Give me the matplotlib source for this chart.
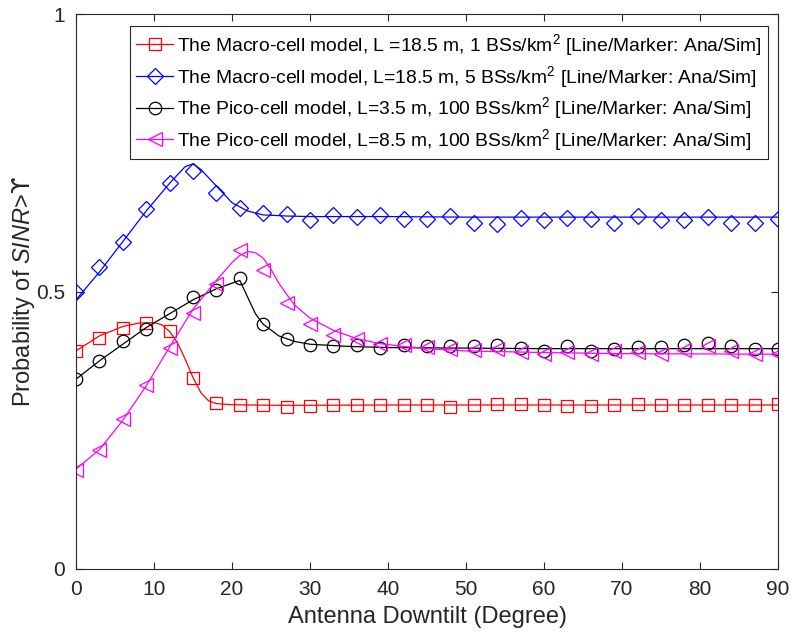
import matplotlib.pyplot as plt
from matplotlib.lines import Line2D
import numpy as np

plt.rcParams['font.family'] = ['Liberation Sans', 'DejaVu Sans']
plt.rcParams['mathtext.fontset'] = 'custom'
plt.rcParams['mathtext.rm'] = 'Liberation Sans'
plt.rcParams['mathtext.it'] = 'Liberation Sans:italic'
plt.rcParams['mathtext.sf'] = 'DejaVu Sans'

# simulation points (markers), every 3 degrees
sim_x = np.arange(0, 91, 3)
red_sim = [0.393, 0.417, 0.435, 0.444, 0.428, 0.344, 0.299, 0.295, 0.296, 0.292, 0.294,
           0.2955, 0.2955, 0.2955, 0.2955, 0.2955, 0.292, 0.2955, 0.297, 0.297, 0.2955,
           0.2937, 0.2937, 0.2955, 0.297, 0.2955, 0.2955, 0.2955, 0.2955, 0.2955, 0.297]
blue_sim = [0.500, 0.545, 0.590, 0.648, 0.695, 0.718, 0.677, 0.650, 0.642, 0.640, 0.629,
            0.637, 0.635, 0.638, 0.631, 0.631, 0.636, 0.624, 0.622, 0.632, 0.628,
            0.632, 0.631, 0.623, 0.636, 0.628, 0.629, 0.634, 0.624, 0.624, 0.631]
black_sim = [0.342, 0.375, 0.410, 0.432, 0.461, 0.490, 0.503, 0.524, 0.441, 0.414, 0.404,
             0.401, 0.404, 0.398, 0.404, 0.401, 0.401, 0.401, 0.404, 0.398, 0.393,
             0.401, 0.393, 0.396, 0.400, 0.400, 0.404, 0.407, 0.402, 0.396, 0.396]
mag_sim = [0.178, 0.214, 0.270, 0.332, 0.398, 0.461, 0.513, 0.575, 0.539, 0.479, 0.441,
           0.422, 0.414, 0.405, 0.404, 0.400, 0.397, 0.395, 0.396, 0.391, 0.387,
           0.391, 0.387, 0.393, 0.391, 0.387, 0.395, 0.401, 0.393, 0.387, 0.387]

# analytical curves (lines)
red_ana_x = [0, 3, 6, 8, 10, 11, 12, 13, 14, 15, 16, 17, 18, 20, 25, 30, 40, 50, 60, 70, 80, 90]
red_ana_y = [0.393, 0.420, 0.437, 0.443, 0.444, 0.440, 0.428, 0.408, 0.378, 0.345, 0.318,
             0.303, 0.298, 0.296, 0.295, 0.295, 0.2955, 0.2955, 0.2955, 0.2955, 0.2955, 0.2955]
blue_ana_x = [0, 3, 6, 9, 12, 14, 15, 16, 18, 20, 22, 24, 27, 30, 40, 50, 60, 70, 80, 90]
blue_ana_y = [0.485, 0.535, 0.590, 0.645, 0.695, 0.725, 0.730, 0.720, 0.690, 0.660, 0.645,
              0.638, 0.636, 0.635, 0.635, 0.634, 0.634, 0.634, 0.634, 0.634]
black_ana_x = [0, 3, 6, 9, 12, 15, 18, 21, 22, 23, 24, 26, 28, 30, 35, 40, 50, 60, 70, 80, 90]
black_ana_y = [0.342, 0.375, 0.405, 0.435, 0.460, 0.485, 0.505, 0.520, 0.490, 0.460, 0.441,
               0.420, 0.410, 0.405, 0.401, 0.399, 0.398, 0.397, 0.397, 0.397, 0.397]
mag_ana_x = [0, 3, 6, 9, 12, 15, 18, 20, 21, 22, 23, 24, 25, 26, 27, 28, 30, 33, 36, 39,
             42, 45, 50, 60, 70, 90]
mag_ana_y = [0.180, 0.215, 0.268, 0.330, 0.400, 0.468, 0.520, 0.552, 0.565, 0.572, 0.570,
             0.560, 0.540, 0.515, 0.495, 0.476, 0.452, 0.430, 0.415, 0.406, 0.401, 0.397,
             0.393, 0.390, 0.388, 0.387]

labels = [
    r'The Macro-cell model, L =18.5 m, 1 BSs/km$^2$ [Line/Marker: Ana/Sim]',
    r'The Macro-cell model, L=18.5 m, 5 BSs/km$^2$ [Line/Marker: Ana/Sim]',
    r'The Pico-cell model, L=3.5 m, 100 BSs/km$^2$ [Line/Marker: Ana/Sim]',
    r'The Pico-cell model, L=8.5 m, 100 BSs/km$^2$ [Line/Marker: Ana/Sim]',
]

fig = plt.figure(figsize=(7.93, 6.37), dpi=100)
ax = fig.add_axes([76 / 793, 1 - 569 / 637, 702 / 793, 555 / 637])

series = [
    (red_ana_x, red_ana_y, red_sim, 'red', 's', 8),
    (blue_ana_x, blue_ana_y, blue_sim, 'blue', 'D', 8),
    (black_ana_x, black_ana_y, black_sim, 'black', 'o', 9),
    (mag_ana_x, mag_ana_y, mag_sim, 'magenta', '<', 10),
]

handles = []
for (ax_x, ax_y, sim, col, mk, ms), lab in zip(series, labels):
    ax.plot(ax_x, ax_y, color=col, linewidth=0.9)
    ax.plot(sim_x, sim, linestyle='none', marker=mk, markersize=ms,
            markerfacecolor='none', markeredgecolor=col, markeredgewidth=0.9)
    handles.append(Line2D([], [], color=col, linewidth=0.9, marker=mk, markersize=ms,
                          markerfacecolor='none', markeredgewidth=0.9, label=lab))

ax.set_xlim(0, 90)
ax.set_ylim(0, 1)
ax.set_xticks(np.arange(0, 91, 10))
ax.set_yticks([0, 0.5, 1])
ax.set_yticklabels(['0', '0.5', '1'])
ax.tick_params(direction='in', labelsize=15, colors='#262626', length=5, width=0.8,
               top=True, right=True, pad=8)
for sp in ax.spines.values():
    sp.set_color('#262626')
    sp.set_linewidth(0.8)

ax.set_xlabel('Antenna Downtilt (Degree)', fontsize=17, color='#262626', labelpad=5)
ax.set_ylabel(r'Probability of $\mathit{SINR}$>$\mathsf{ϒ}$', fontsize=17,
              color='#262626', labelpad=-1)

leg = ax.legend(handles=handles, loc='upper right',
                bbox_to_anchor=(768 / 793, 1 - 26 / 637), bbox_transform=fig.transFigure,
                borderaxespad=0, fontsize=13.9, numpoints=1, handlelength=1.9,
                handletextpad=0.2, labelspacing=0.3, borderpad=0.32,
                fancybox=False, framealpha=1)
leg.get_frame().set_edgecolor('#262626')
leg.get_frame().set_linewidth(0.8)

fig.savefig('out.png', dpi=100)
